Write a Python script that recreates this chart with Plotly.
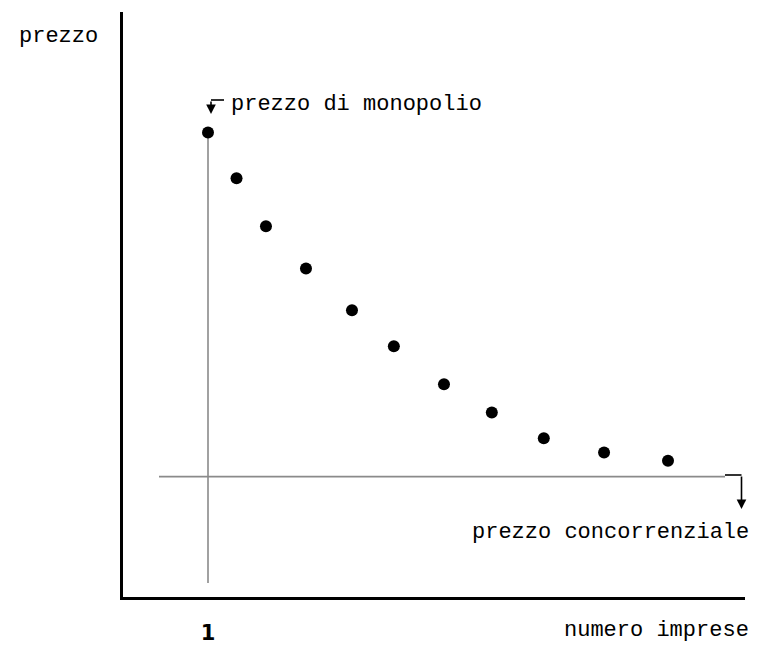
import plotly.graph_objects as go

# Data (schematic: price vs number of firms)
numero_imprese = [1, 1.62, 2.26, 3.13, 4.13, 5.04, 6.13, 7.17, 8.30, 9.61, 11.0]
prezzo = [10.80, 9.74, 8.62, 7.64, 6.67, 5.83, 4.95, 4.29, 3.69, 3.36, 3.17]
prezzo_concorrenziale = 2.80
tick_vals = [1]
tick_text = ["1"]

W, H = 760, 652
L, R, T, B = 123, 15, 12, 55
PXX = 46.0   # px per x unit, x=1 at px 208
PXY = 43.0   # px per y unit, y=0 at px 597
def X(px):
    return 1 + (px - 208) / PXX
def Y(py):
    return (597 - py) / PXY
def PX(px):
    return (px - L) / (W - L - R)
def PY(py):
    return (H - B - py) / (H - T - B)

TXT = "Liberation Mono"
fig = go.Figure()

fig.add_trace(go.Scatter(
    x=numero_imprese, y=prezzo, mode="markers",
    marker=dict(color="black", size=12, line=dict(width=0)),
    showlegend=False, hoverinfo="skip", cliponaxis=False))

gray = "#8a8a8a"
shapes = [
    dict(type="line", xref="x", yref="y", x0=numero_imprese[0], x1=numero_imprese[0],
         y0=Y(583), y1=prezzo[0], line=dict(color=gray, width=1.6), layer="below"),
    dict(type="line", xref="x", yref="y", x0=X(159), x1=X(725),
         y0=prezzo_concorrenziale, y1=prezzo_concorrenziale,
         line=dict(color=gray, width=1.6), layer="below"),
    dict(type="line", xref="x", yref="y", x0=X(211), x1=X(224), y0=Y(100), y1=Y(100),
         line=dict(color="black", width=1.6)),
    dict(type="line", xref="x", yref="y", x0=X(725), x1=X(741.5), y0=Y(475), y1=Y(475),
         line=dict(color="black", width=1.6)),
]

font = dict(family=TXT, size=22, color="black")
annotations = [
    dict(text="prezzo", xref="paper", yref="paper", x=PX(17), y=PY(37), xanchor="left",
         yanchor="middle", showarrow=False, font=font),
    dict(text="prezzo di monopolio", xref="paper", yref="paper", x=PX(229), y=PY(104),
         xanchor="left", yanchor="middle", showarrow=False, font=font),
    dict(text="prezzo concorrenziale", xref="paper", yref="paper", x=PX(751), y=PY(532),
         xanchor="right", yanchor="middle", showarrow=False, font=font),
    dict(text="numero imprese", xref="paper", yref="paper", x=PX(751), y=PY(630),
         xanchor="right", yanchor="middle", showarrow=False, font=font),
    dict(text="", xref="x", yref="y", x=X(211), y=Y(114), ax=X(211), ay=Y(100),
         axref="x", ayref="y", showarrow=True, arrowhead=2, arrowsize=1.2, arrowwidth=1.6,
         arrowcolor="black"),
    dict(text="", xref="x", yref="y", x=X(741.5), y=Y(509), ax=X(741.5), ay=Y(475),
         axref="x", ayref="y", showarrow=True, arrowhead=2, arrowsize=1.2, arrowwidth=1.6,
         arrowcolor="black"),
]

fig.update_layout(
    width=W, height=H, margin=dict(l=L, r=R, t=T, b=B, pad=0, autoexpand=False),
    paper_bgcolor="white", plot_bgcolor="white",
    shapes=shapes, annotations=annotations,
    xaxis=dict(range=[X(L), X(W - R)], showgrid=False, zeroline=False, automargin=False,
               showline=True, linecolor="black", linewidth=3,
               tickvals=tick_vals, ticktext=tick_text, ticks="", ticklabelstandoff=15,
               tickfont=dict(family="DejaVu Sans", size=21, color="black", weight="bold")),
    yaxis=dict(range=[Y(H - B), Y(T)], showgrid=False, zeroline=False, automargin=False,
               showline=True, linecolor="black", linewidth=3,
               showticklabels=False, ticks=""),
)

fig.write_html("out.html", config={"displayModeBar": False},
               post_script="document.body.style.margin='0';")
